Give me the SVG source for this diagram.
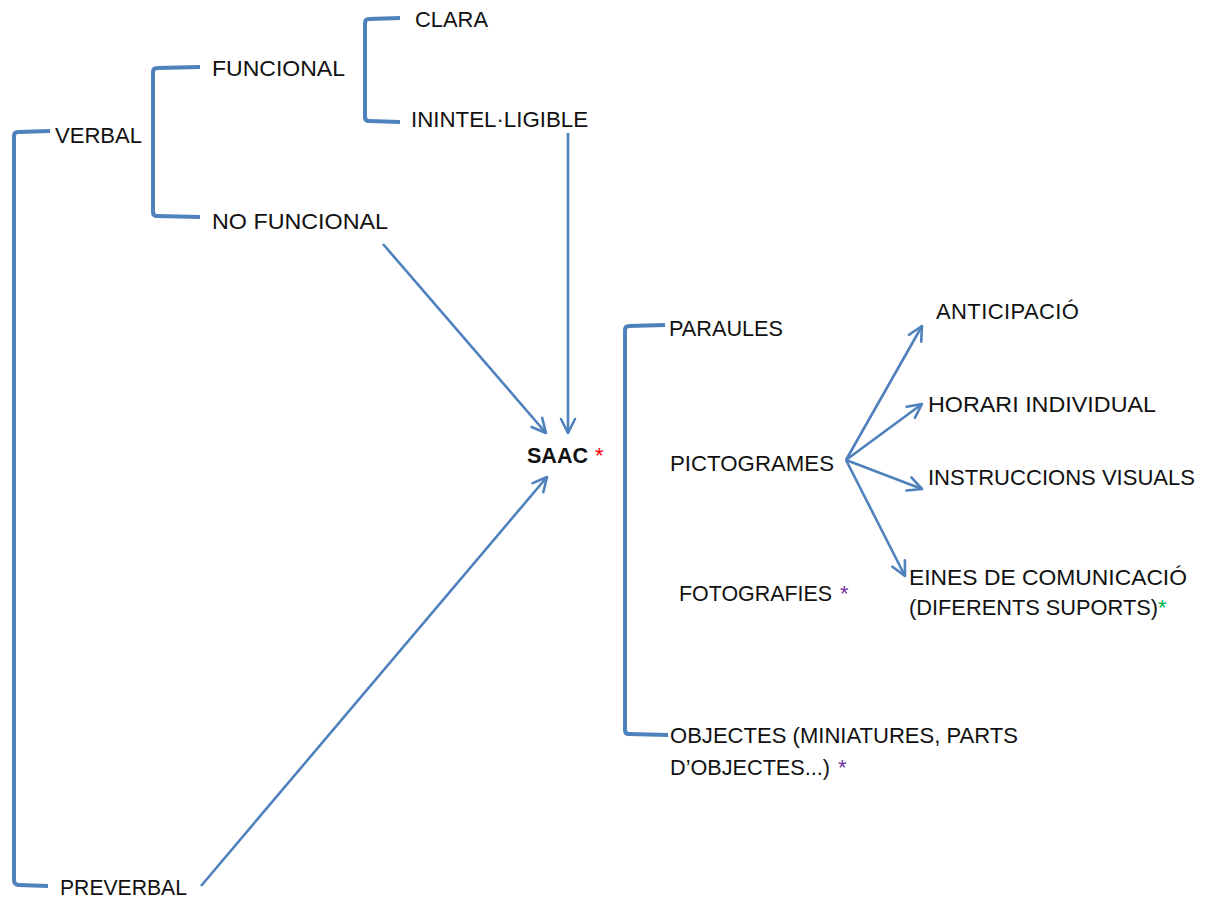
<svg xmlns="http://www.w3.org/2000/svg" width="1207" height="899" viewBox="0 0 1207 899">
<defs>
<marker id="open" viewBox="0 0 20 20" refX="17" refY="10" markerWidth="20" markerHeight="20" markerUnits="userSpaceOnUse" orient="auto">
<path d="M3,3 L17,10 L3,17" fill="none" stroke="#4f81bd" stroke-width="2.6" stroke-linecap="round" stroke-linejoin="round"/>
</marker>
</defs>
<style>
text{font-family:"Liberation Sans",Arial,sans-serif;font-size:22px;fill:#111}
.b{font-weight:bold}
.br{fill:none;stroke:#4f81bd;stroke-width:4;stroke-linejoin:round}
.ar{fill:none;stroke:#4f81bd;stroke-width:2.6;marker-end:url(#open)}
.red{fill:#ff0000}.pur{fill:#7030a0}.grn{fill:#00b050}
</style>
<rect width="1207" height="899" fill="#fff"/>
<g id="connectors">
<path class="br" d="M50,131 L18,132 Q14,132 14,136 L14,880 Q14,885 19,885 L48,886"/>
<path class="br" d="M200,67 L157,68 Q153,68 153,72 L153,212 Q153,216 157,216 L200,217"/>
<path class="br" d="M400,18 L369,19 Q365,19 365,23 L365,117 Q365,121 369,121 L400,122"/>
<path class="br" d="M665,325 L629,326 Q625,326 625,330 L625,730 Q625,734 629,734 L668,735"/>
<line class="ar" x1="568" y1="133" x2="568" y2="433"/>
<line class="ar" x1="383" y1="244" x2="546" y2="433"/>
<line class="ar" x1="201" y1="886" x2="547" y2="477"/>
<line class="ar" x1="846" y1="460" x2="922" y2="326"/>
<line class="ar" x1="846" y1="460" x2="922" y2="404"/>
<line class="ar" x1="846" y1="460" x2="922" y2="489"/>
<line class="ar" x1="846" y1="460" x2="905" y2="576"/>
</g>
<g id="clara"><text x="415" y="27" textLength="73" lengthAdjust="spacingAndGlyphs">CLARA</text></g>
<g id="funcional"><text x="212" y="76" textLength="133" lengthAdjust="spacingAndGlyphs">FUNCIONAL</text></g>
<g id="verbal"><text x="55" y="143" textLength="87" lengthAdjust="spacingAndGlyphs">VERBAL</text></g>
<g id="inintel"><text x="411" y="127" textLength="177" lengthAdjust="spacingAndGlyphs">ININTEL·LIGIBLE</text></g>
<g id="nofuncional"><text x="212" y="229" textLength="176" lengthAdjust="spacingAndGlyphs">NO FUNCIONAL</text></g>
<g id="saac"><text x="527" y="463" class="b" textLength="61" lengthAdjust="spacingAndGlyphs">SAAC</text><text x="595" y="463" class="red">*</text></g>
<g id="paraules"><text x="669" y="336" textLength="114" lengthAdjust="spacingAndGlyphs">PARAULES</text></g>
<g id="pictogrames"><text x="670" y="471" textLength="164" lengthAdjust="spacingAndGlyphs">PICTOGRAMES</text></g>
<g id="fotografies"><text x="679" y="601" textLength="153" lengthAdjust="spacingAndGlyphs">FOTOGRAFIES</text><text x="840" y="601" class="pur">*</text></g>
<g id="objectes"><text x="670" y="743" textLength="348" lengthAdjust="spacingAndGlyphs">OBJECTES (MINIATURES, PARTS</text><text x="670" y="775" textLength="160" lengthAdjust="spacingAndGlyphs">D’OBJECTES...)</text><text x="838" y="775" class="pur">*</text></g>
<g id="anticipacio"><text x="936" y="319" letter-spacing="0.4">ANTICIPACIÓ</text></g>
<g id="horari"><text x="928" y="412" textLength="228" lengthAdjust="spacingAndGlyphs">HORARI INDIVIDUAL</text></g>
<g id="instruccions"><text x="928" y="485" textLength="267" lengthAdjust="spacingAndGlyphs">INSTRUCCIONS VISUALS</text></g>
<g id="eines"><text x="909" y="585" textLength="278" lengthAdjust="spacingAndGlyphs">EINES DE COMUNICACIÓ</text><text x="909" y="615" textLength="249" lengthAdjust="spacingAndGlyphs">(DIFERENTS SUPORTS)</text><text x="1158" y="615" class="grn">*</text></g>
<g id="preverbal"><text x="60" y="895" textLength="127" lengthAdjust="spacingAndGlyphs">PREVERBAL</text></g>
</svg>
